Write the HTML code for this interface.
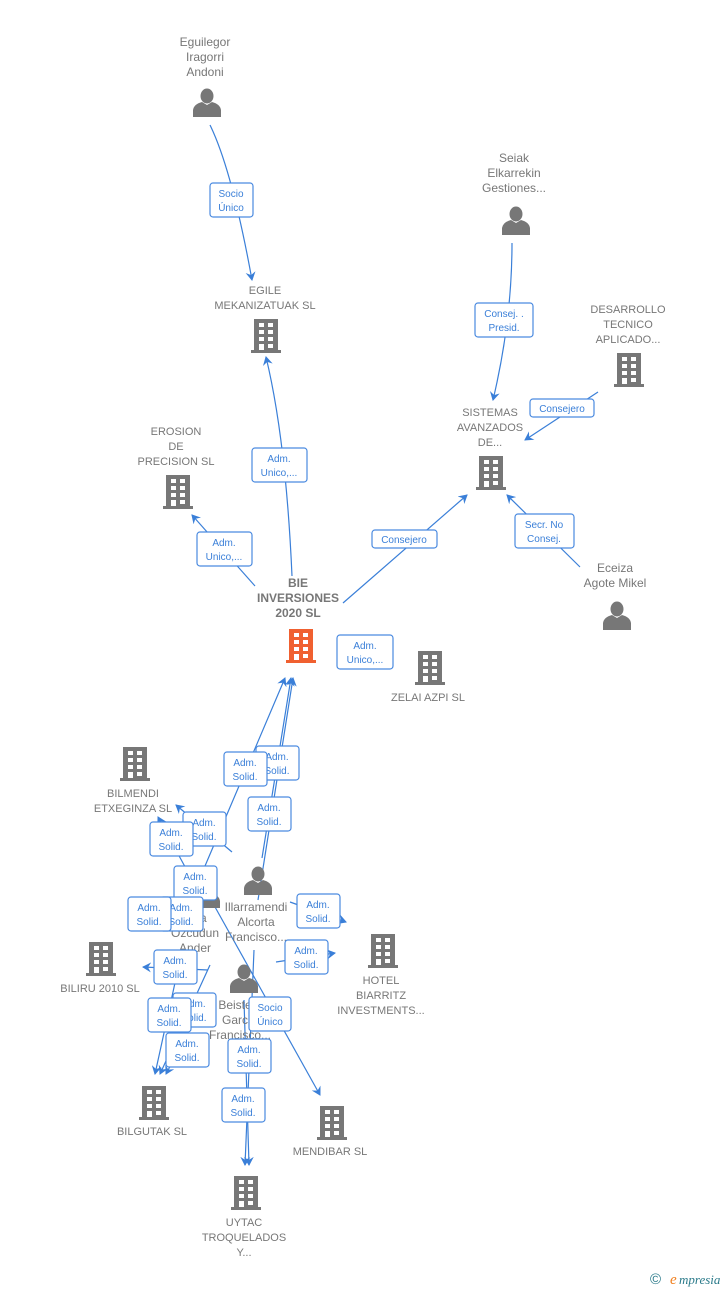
<!DOCTYPE html>
<html><head><meta charset="utf-8">
<style>
html,body{margin:0;padding:0;background:#fff;}
svg{display:block;}
.n{font-family:"Liberation Sans",sans-serif;font-size:12px;fill:#777;text-anchor:middle;}
.c{font-family:"Liberation Sans",sans-serif;font-size:11px;fill:#777;text-anchor:middle;}
.b{font-family:"Liberation Sans",sans-serif;font-size:12px;fill:#777;text-anchor:middle;font-weight:bold;}
.l{font-family:"Liberation Sans",sans-serif;font-size:10px;fill:#3a7fd8;text-anchor:middle;}
.bx{fill:#fff;stroke:#4a8ae0;stroke-width:1.2;}
.e{stroke:#3a7fd8;stroke-width:1.2;fill:none;}
</style></head><body>
<svg width="728" height="1290" viewBox="0 0 728 1290" xmlns="http://www.w3.org/2000/svg">
<defs>
<g id="bld">
<rect x="-12" y="-17" width="24" height="33" fill="currentColor"/>
<rect x="-15" y="14" width="30" height="3" fill="currentColor"/>
<g fill="#fff">
<rect x="-7" y="-13" width="5" height="4"/><rect x="2" y="-13" width="5" height="4"/>
<rect x="-7" y="-6" width="5" height="4"/><rect x="2" y="-6" width="5" height="4"/>
<rect x="-7" y="1" width="5" height="4"/><rect x="2" y="1" width="5" height="4"/>
<rect x="-7" y="8" width="5" height="6"/><rect x="2" y="8" width="5" height="4"/>
</g></g>
<g id="per" fill="#777">
<ellipse cx="0" cy="-7" rx="6.5" ry="7.5"/>
<path d="M-14,14 L-14,7 Q-13,1 -5,-1 L0,2 L5,-1 Q13,1 14,7 L14,14 Z"/>
</g>
<marker id="a" markerWidth="10" markerHeight="10" refX="8" refY="5" orient="auto" markerUnits="userSpaceOnUse">
<path d="M0,0 L9,5 L0,10 L3,5 Z" fill="#3a7fd8"/></marker>
</defs>

<!-- edges -->
<path class="e" d="M210,125 Q232,170 252,280" marker-end="url(#a)"/>
<path class="e" d="M292,576 Q286,440 266,357" marker-end="url(#a)"/>
<path class="e" d="M255,586 L192,515" marker-end="url(#a)"/>
<path class="e" d="M343,603 L467,495" marker-end="url(#a)"/>
<path class="e" d="M512,243 Q512,320 493,400" marker-end="url(#a)"/>
<path class="e" d="M598,392 L525,440" marker-end="url(#a)"/>
<path class="e" d="M580,567 L507,495" marker-end="url(#a)"/>
<path class="e" d="M205,866 L285,678" marker-end="url(#a)"/>
<path class="e" d="M258,900 L293,678" marker-end="url(#a)"/>
<path class="e" d="M262,858 L291,678" marker-end="url(#a)"/>
<path class="e" d="M190,876 L158,817" marker-end="url(#a)"/>
<path class="e" d="M232,852 L176,805" marker-end="url(#a)"/>
<path class="e" d="M290,902 L346,922" marker-end="url(#a)"/>
<path class="e" d="M276,962 L335,953" marker-end="url(#a)"/>
<path class="e" d="M208,970 L143,967" marker-end="url(#a)"/>
<path class="e" d="M180,960 L155,1074" marker-end="url(#a)"/>
<path class="e" d="M210,965 L160,1074" marker-end="url(#a)"/>
<path class="e" d="M200,1010 L166,1074" marker-end="url(#a)"/>
<path class="e" d="M210,898 L320,1095" marker-end="url(#a)"/>
<path class="e" d="M254,950 L245,1165" marker-end="url(#a)"/>
<path class="e" d="M244,1000 L249,1165" marker-end="url(#a)"/>

<!-- nodes -->
<text class="n" x="205" y="46">Eguilegor</text><text class="n" x="205" y="61">Iragorri</text><text class="n" x="205" y="76">Andoni</text>
<use href="#per" x="207" y="103"/>
<text class="n" x="514" y="162">Seiak</text><text class="n" x="514" y="177">Elkarrekin</text><text class="n" x="514" y="192">Gestiones...</text>
<use href="#per" x="516" y="221"/>
<text class="n" x="615" y="572">Eceiza</text><text class="n" x="615" y="587">Agote Mikel</text>
<use href="#per" x="617" y="616"/>

<text class="c" x="265" y="294">EGILE</text><text class="c" x="265" y="309">MEKANIZATUAK SL</text>
<use href="#bld" x="266" y="336" style="color:#777"/>
<text class="c" x="628" y="313">DESARROLLO</text><text class="c" x="628" y="328">TECNICO</text><text class="c" x="628" y="343">APLICADO...</text>
<use href="#bld" x="629" y="370" style="color:#777"/>
<text class="c" x="490" y="416">SISTEMAS</text><text class="c" x="490" y="431">AVANZADOS</text><text class="c" x="490" y="446">DE...</text>
<use href="#bld" x="491" y="473" style="color:#777"/>
<text class="c" x="176" y="435">EROSION</text><text class="c" x="176" y="450">DE</text><text class="c" x="176" y="465">PRECISION SL</text>
<use href="#bld" x="178" y="492" style="color:#777"/>
<text class="b" x="298" y="587">BIE</text><text class="b" x="298" y="602">INVERSIONES</text><text class="b" x="298" y="617">2020  SL</text>
<use href="#bld" x="301" y="646" style="color:#f06030"/>
<use href="#bld" x="430" y="668" style="color:#777"/>
<text class="c" x="428" y="701">ZELAI AZPI  SL</text>
<use href="#bld" x="135" y="764" style="color:#777"/>
<text class="c" x="133" y="797">BILMENDI</text><text class="c" x="133" y="812">ETXEGINZA  SL</text>
<use href="#bld" x="101" y="959" style="color:#777"/>
<text class="c" x="100" y="992">BILIRU 2010 SL</text>
<use href="#bld" x="383" y="951" style="color:#777"/>
<text class="c" x="381" y="984">HOTEL</text><text class="c" x="381" y="999">BIARRITZ</text><text class="c" x="381" y="1014">INVESTMENTS...</text>
<use href="#bld" x="154" y="1103" style="color:#777"/>
<text class="c" x="152" y="1135">BILGUTAK  SL</text>
<use href="#bld" x="332" y="1123" style="color:#777"/>
<text class="c" x="330" y="1155">MENDIBAR SL</text>
<use href="#bld" x="246" y="1193" style="color:#777"/>
<text class="c" x="244" y="1226">UYTAC</text><text class="c" x="244" y="1241">TROQUELADOS</text><text class="c" x="244" y="1256">Y...</text>

<use href="#per" x="206" y="894"/>
<text class="n" x="195" y="922">...na</text><text class="n" x="195" y="937">Ozcudun</text><text class="n" x="195" y="952">Ander</text>
<use href="#per" x="258" y="881"/>
<text class="n" x="256" y="911">Illarramendi</text><text class="n" x="256" y="926">Alcorta</text><text class="n" x="256" y="941">Francisco...</text>
<use href="#per" x="244" y="979"/>
<text class="n" x="240" y="1009">Beiste...</text><text class="n" x="240" y="1024">Garc...</text><text class="n" x="240" y="1039">Francisco...</text>

<!-- labels -->
<g>
<rect class="bx" x="210" y="183" width="43" height="34" rx="3"/><text class="l" x="231" y="197">Socio</text><text class="l" x="231" y="211">Único</text>
<rect class="bx" x="252" y="448" width="55" height="34" rx="3"/><text class="l" x="279" y="462">Adm.</text><text class="l" x="279" y="476">Unico,...</text>
<rect class="bx" x="197" y="532" width="55" height="34" rx="3"/><text class="l" x="224" y="546">Adm.</text><text class="l" x="224" y="560">Unico,...</text>
<rect class="bx" x="372" y="530" width="65" height="18" rx="3"/><text class="l" x="404" y="543">Consejero</text>
<rect class="bx" x="475" y="303" width="58" height="34" rx="3"/><text class="l" x="504" y="317">Consej. .</text><text class="l" x="504" y="331">Presid.</text>
<rect class="bx" x="530" y="399" width="64" height="18" rx="3"/><text class="l" x="562" y="412">Consejero</text>
<rect class="bx" x="515" y="514" width="59" height="34" rx="3"/><text class="l" x="544" y="528">Secr.  No</text><text class="l" x="544" y="542">Consej.</text>
<rect class="bx" x="337" y="635" width="56" height="34" rx="3"/><text class="l" x="365" y="649">Adm.</text><text class="l" x="365" y="663">Unico,...</text>
</g>
<g>
<rect class="bx" x="256" y="746" width="43" height="34" rx="3"/><text class="l" x="277" y="760">Adm.</text><text class="l" x="277" y="774">Solid.</text>
<rect class="bx" x="224" y="752" width="43" height="34" rx="3"/><text class="l" x="245" y="766">Adm.</text><text class="l" x="245" y="780">Solid.</text>
<rect class="bx" x="248" y="797" width="43" height="34" rx="3"/><text class="l" x="269" y="811">Adm.</text><text class="l" x="269" y="825">Solid.</text>
<rect class="bx" x="183" y="812" width="43" height="34" rx="3"/><text class="l" x="204" y="826">Adm.</text><text class="l" x="204" y="840">Solid.</text>
<rect class="bx" x="150" y="822" width="43" height="34" rx="3"/><text class="l" x="171" y="836">Adm.</text><text class="l" x="171" y="850">Solid.</text>
<rect class="bx" x="174" y="866" width="43" height="34" rx="3"/><text class="l" x="195" y="880">Adm.</text><text class="l" x="195" y="894">Solid.</text>
<rect class="bx" x="160" y="897" width="43" height="34" rx="3"/><text class="l" x="181" y="911">Adm.</text><text class="l" x="181" y="925">Solid.</text>
<rect class="bx" x="128" y="897" width="43" height="34" rx="3"/><text class="l" x="149" y="911">Adm.</text><text class="l" x="149" y="925">Solid.</text>
<rect class="bx" x="297" y="894" width="43" height="34" rx="3"/><text class="l" x="318" y="908">Adm.</text><text class="l" x="318" y="922">Solid.</text>
<rect class="bx" x="285" y="940" width="43" height="34" rx="3"/><text class="l" x="306" y="954">Adm.</text><text class="l" x="306" y="968">Solid.</text>
<rect class="bx" x="154" y="950" width="43" height="34" rx="3"/><text class="l" x="175" y="964">Adm.</text><text class="l" x="175" y="978">Solid.</text>
<rect class="bx" x="173" y="993" width="43" height="34" rx="3"/><text class="l" x="194" y="1007">Adm.</text><text class="l" x="194" y="1021">Solid.</text>
<rect class="bx" x="148" y="998" width="43" height="34" rx="3"/><text class="l" x="169" y="1012">Adm.</text><text class="l" x="169" y="1026">Solid.</text>
<rect class="bx" x="249" y="997" width="42" height="34" rx="3"/><text class="l" x="270" y="1011">Socio</text><text class="l" x="270" y="1025">Único</text>
<rect class="bx" x="166" y="1033" width="43" height="34" rx="3"/><text class="l" x="187" y="1047">Adm.</text><text class="l" x="187" y="1061">Solid.</text>
<rect class="bx" x="228" y="1039" width="43" height="34" rx="3"/><text class="l" x="249" y="1053">Adm.</text><text class="l" x="249" y="1067">Solid.</text>
<rect class="bx" x="222" y="1088" width="43" height="34" rx="3"/><text class="l" x="243" y="1102">Adm.</text><text class="l" x="243" y="1116">Solid.</text>
</g>

<text x="650" y="1284" font-family="Liberation Sans,sans-serif" font-size="15" fill="#2a7a8a">©</text>
<text x="670" y="1284" font-family="Liberation Serif,serif" font-style="italic" font-size="15" fill="#f08020">e</text>
<text x="679" y="1284" font-family="Liberation Serif,serif" font-style="italic" font-size="13" fill="#2a7a8a">mpresia</text>
</svg>
</body></html>
